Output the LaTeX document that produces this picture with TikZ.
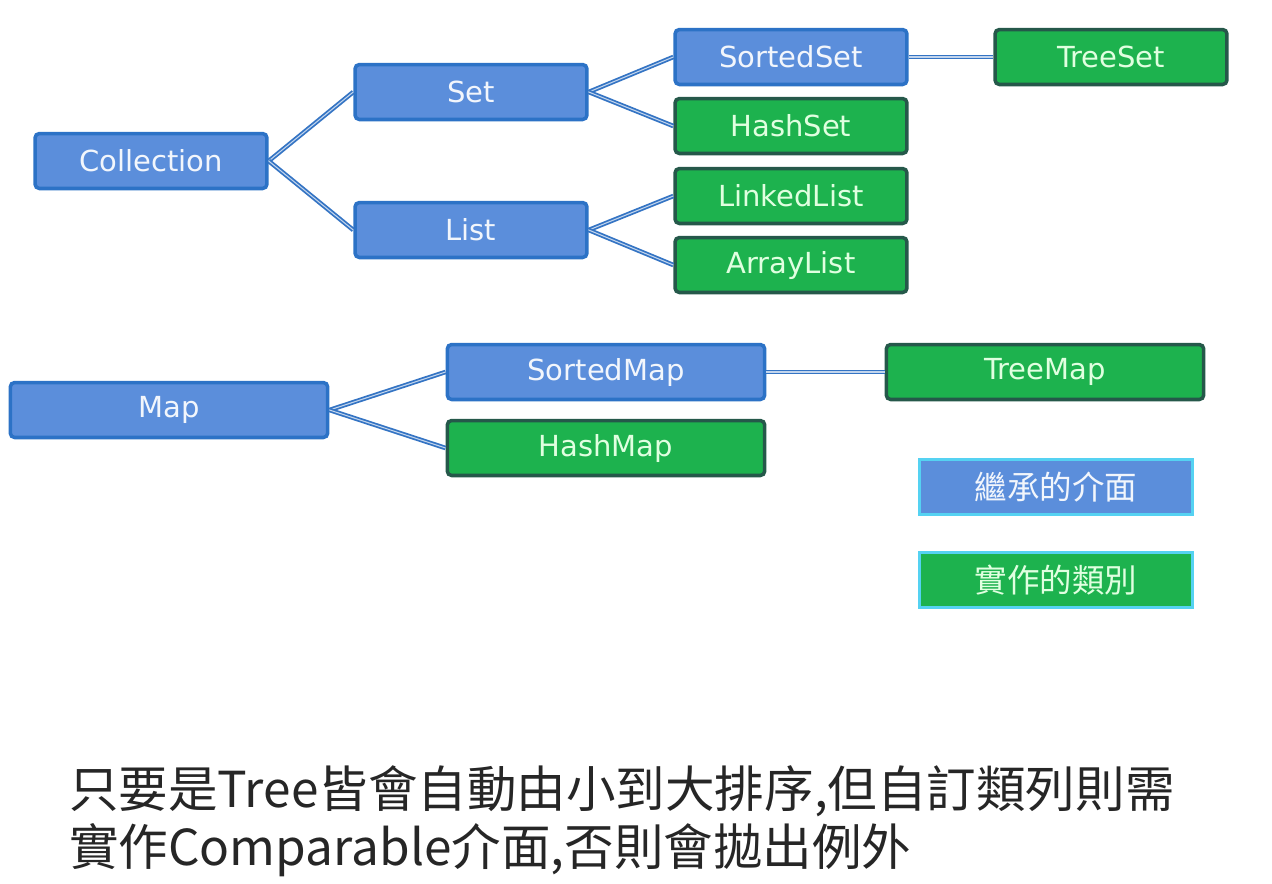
\documentclass[tikz,border=0pt]{standalone}
\usepackage{fontspec}
\setmainfont{DejaVu Sans}
\newfontfamily\cjk{Noto Sans CJK TC}
\usetikzlibrary{positioning}
\definecolor{ifblue}{HTML}{5B8EDB}
\definecolor{ifedge}{HTML}{2C72C6}
\definecolor{clsgreen}{HTML}{1DB24E}
\definecolor{clsedge}{HTML}{25584A}
\definecolor{legedge}{HTML}{55D2F2}
\definecolor{linkblue}{HTML}{3474C4}

\begin{document}
\begin{tikzpicture}[x=0.02cm,y=-0.02cm]
\tikzset{
  box/.style={rounded corners=2.5pt,line width=2pt,minimum height=1.1cm,inner sep=0pt,font=\fontsize{16.5}{20}\selectfont},
  iface/.style={box,draw=ifedge,fill=ifblue,text=white!92!ifblue},
  impl/.style={box,draw=clsedge,fill=clsgreen,text=green!12!white},
  short/.style={minimum width=4.64cm},
  long/.style={minimum width=6.35cm},
  legend/.style={line width=1.3pt,draw=legedge,minimum width=5.46cm,minimum height=1.1cm,inner sep=0pt,font=\cjk\fontsize{18.5}{22}\selectfont},
  link/.style={draw=linkblue,double=linkblue!30!white,line width=1pt,double distance=0.6pt},
  note/.style={anchor=base west,font=\cjk\fontsize{28.2}{34}\selectfont,text=black!85}
}
\useasboundingbox[fill=white] (0,0) rectangle (1272,883);

% Collection tree
\node[iface,short] (coll) at (151,161) {Collection};
\node[iface,short] (set) at (471,92) {Set};
\node[iface,short] (list) at (471,230) {List};
\node[iface,short] (sset) at (791,57) {SortedSet};
\node[impl,short] (hset) at (791,126) {HashSet};
\node[impl,short] (llist) at (791,196) {LinkedList};
\node[impl,short] (alist) at (791,265) {ArrayList};
\node[impl,short] (tset) at (1111,57) {TreeSet};

\draw[link] (coll.east) -- (set.west);
\draw[link] (coll.east) -- (list.west);
\draw[link] (set.east) -- (sset.west);
\draw[link] (set.east) -- (hset.west);
\draw[link] (list.east) -- (llist.west);
\draw[link] (list.east) -- (alist.west);
\draw[link] (sset.east) -- (tset.west);

% Map tree
\node[iface,long] (map) at (169,410) {Map};
\node[iface,long] (smap) at (606,372) {SortedMap};
\node[impl,long] (hmap) at (606,448) {HashMap};
\node[impl,long] (tmap) at (1045,372) {TreeMap};

\draw[link] (map.east) -- (smap.west);
\draw[link] (map.east) -- (hmap.west);
\draw[link] (smap.east) -- (tmap.west);

% legend
\node[legend,fill=ifblue,text=white!92!ifblue] (legif) at (1056,487) {繼承的介面};
\node[legend,fill=clsgreen,text=green!12!white] (legcls) at (1056,580) {實作的類別};

\node[note] (noteA) at (63,807) {只要是Tree皆會自動由小到大排序,但自訂類列則需};
\node[note] (noteB) at (63,865) {實作Comparable介面,否則會拋出例外};
\end{tikzpicture}
\end{document}
